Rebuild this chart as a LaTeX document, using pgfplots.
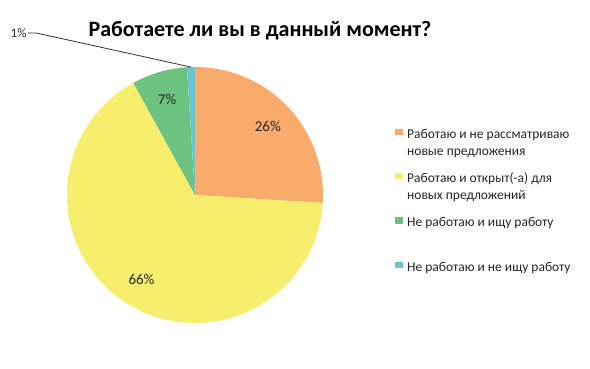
\documentclass[border=0pt]{standalone}
\usepackage{fontspec}
\setmainfont{Carlito}
\usepackage{pgfplots}
\usepackage{pgfplotstable}
\pgfplotsset{compat=1.18}
\definecolor{pieorange}{HTML}{F9AB6B}
\definecolor{pieyellow}{HTML}{F8EE6E}
\definecolor{piegreen}{HTML}{6CC27E}
\definecolor{pieblue}{HTML}{6BC5CE}
\pgfplotstableread{
share col
26 pieorange
66 pieyellow
7 piegreen
1 pieblue
}\piedata
\begin{document}
\begin{tikzpicture}
\useasboundingbox (0,0) rectangle (590pt,368pt);
\begin{axis}[at={(0,0)}, anchor=south west, x=128pt, y=128pt,
  xmin=-1.5234, xmax=3.0859, ymin=-1.3516, ymax=1.5234,
  hide axis, clip=false,
  legend image code/.code={\path[#1] (0pt,3pt) rectangle (8pt,9.5pt);},
  legend style={draw=none, fill=none, at={(axis cs:1.5625,0.5469)}, anchor=north west,
    inner sep=0pt, row sep=29pt, column sep=3pt,
    font=\fontsize{13.5}{17}\selectfont, cells={anchor=base west},
    nodes={inner sep=1pt, text=black!85}},
]
\gdef\cum{0}
\pgfplotsforeachungrouped \i in {0,...,3}{%
  \pgfplotstablegetelem{\i}{share}\of\piedata
  \let\sliceval=\pgfplotsretval
  \pgfplotstablegetelem{\i}{col}\of\piedata
  \let\slicecol=\pgfplotsretval
  \pgfmathsetmacro\sa{90-3.6*\cum}
  \pgfmathsetmacro\sb{90-3.6*(\cum+\sliceval)}
  \pgfmathsetmacro\sm{(\sa+\sb)/2}
  \edef\temp{\noexpand\fill[\slicecol] (axis cs:0,0) -- (axis cs:{cos(\sa)},{sin(\sa)}) arc[start angle=\sa, end angle=\sb, radius=128pt] -- cycle;}
  \temp
  \ifnum\sliceval>1
    \edef\temp{\noexpand\node[text=black!85, font=\noexpand\fontsize{15}{18}\noexpand\selectfont] at (axis cs:{0.78*cos(\sm)},{0.78*sin(\sm)}) {\sliceval\noexpand\%};}
    \temp
  \else
    \edef\temp{\noexpand\draw[black!80, line width=0.8pt] (axis cs:{cos(\sm)},{sin(\sm)}) -- (axis cs:-1.242,1.266) -- (axis cs:-1.305,1.266) node[anchor=east, inner sep=1pt, text=black!85, font=\noexpand\fontsize{13}{15}\noexpand\selectfont] {\sliceval\noexpand\%};}
    \temp
  \fi
  \pgfmathsetmacro\newcum{\cum+\sliceval}
  \xdef\cum{\newcum}
}
\node[anchor=base, font=\bfseries\fontsize{22}{26}\selectfont] at (axis cs:0.508,1.242) {Работаете ли вы в данный момент?};
\addlegendimage{fill=pieorange,draw=none}
\addlegendentry{\begin{tabular}[t]{@{}l@{}}Работаю и не рассматриваю\\новые предложения\end{tabular}}
\addlegendimage{fill=pieyellow,draw=none}
\addlegendentry{\begin{tabular}[t]{@{}l@{}}Работаю и открыт(-а) для\\новых предложений\end{tabular}}
\addlegendimage{fill=piegreen,draw=none}
\addlegendentry{\begin{tabular}[t]{@{}l@{}}Не работаю и ищу работу\end{tabular}}
\addlegendimage{fill=pieblue,draw=none}
\addlegendentry{\begin{tabular}[t]{@{}l@{}}Не работаю и не ищу работу\end{tabular}}
\end{axis}
\end{tikzpicture}
\end{document}
